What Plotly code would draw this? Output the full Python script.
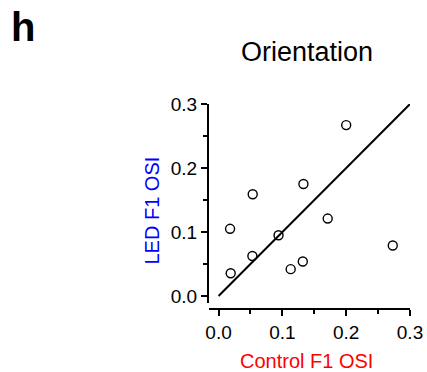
import plotly.graph_objects as go

control_osi = [0.018, 0.019, 0.0535, 0.053, 0.094, 0.113, 0.132, 0.133, 0.171, 0.200, 0.273]
led_osi = [0.105, 0.0355, 0.159, 0.0625, 0.095, 0.042, 0.054, 0.175, 0.121, 0.267, 0.079]
unity = [0.0, 0.3]
tick_vals = [0.0, 0.1, 0.2, 0.3]
tick_text = ["0.0", "0.1", "0.2", "0.3"]

FONT = "Liberation Sans, Arial, sans-serif"

fig = go.Figure()
fig.add_trace(go.Scatter(x=unity, y=unity, mode="lines",
                         line=dict(color="black", width=2), showlegend=False))
fig.add_trace(go.Scatter(x=control_osi, y=led_osi, mode="markers",
                         marker=dict(symbol="circle-open", size=9, color="black",
                                     line=dict(width=1.4, color="black")),
                         showlegend=False))

axis_common = dict(showgrid=False, zeroline=False, showline=True, linecolor="black",
                   linewidth=2, ticks="outside", ticklen=6, tickwidth=2, tickcolor="black",
                   tickvals=tick_vals, ticktext=tick_text, automargin=False,
                   tickfont=dict(family=FONT, size=19, color="black"),
                   minor=dict(ticks="outside", ticklen=4, tickwidth=2, tickcolor="black", dtick=0.05))

fig.update_layout(
    width=427, height=372,
    margin=dict(l=209, r=17, t=104, b=63, autoexpand=False),
    paper_bgcolor="white", plot_bgcolor="white",
    xaxis=dict(range=[-0.015, 0.3], domain=[0, 1], anchor="free", position=0, **axis_common),
    yaxis=dict(range=[-0.011, 0.3], domain=[0.029, 1], **axis_common),
    annotations=[
        dict(text="h", x=-0.923, y=1.376, xref="paper", yref="paper", showarrow=False,
             xanchor="center", yanchor="middle",
             font=dict(family=FONT, size=40, color="black", weight="bold")),
        dict(text="Orientation", x=0.488, y=1.254, xref="paper", yref="paper", showarrow=False,
             xanchor="center", yanchor="middle", font=dict(family=FONT, size=27, color="black")),
        dict(text="Control F1 OSI", x=0.485, y=-0.256, xref="paper", yref="paper", showarrow=False,
             xanchor="center", yanchor="middle", font=dict(family=FONT, size=20, color="red")),
        dict(text="LED F1 OSI", x=-0.284, y=0.48, xref="paper", yref="paper", showarrow=False,
             xanchor="center", yanchor="middle", textangle=-90,
             font=dict(family=FONT, size=20, color="blue")),
    ],
)

fig.write_html("out.html")
